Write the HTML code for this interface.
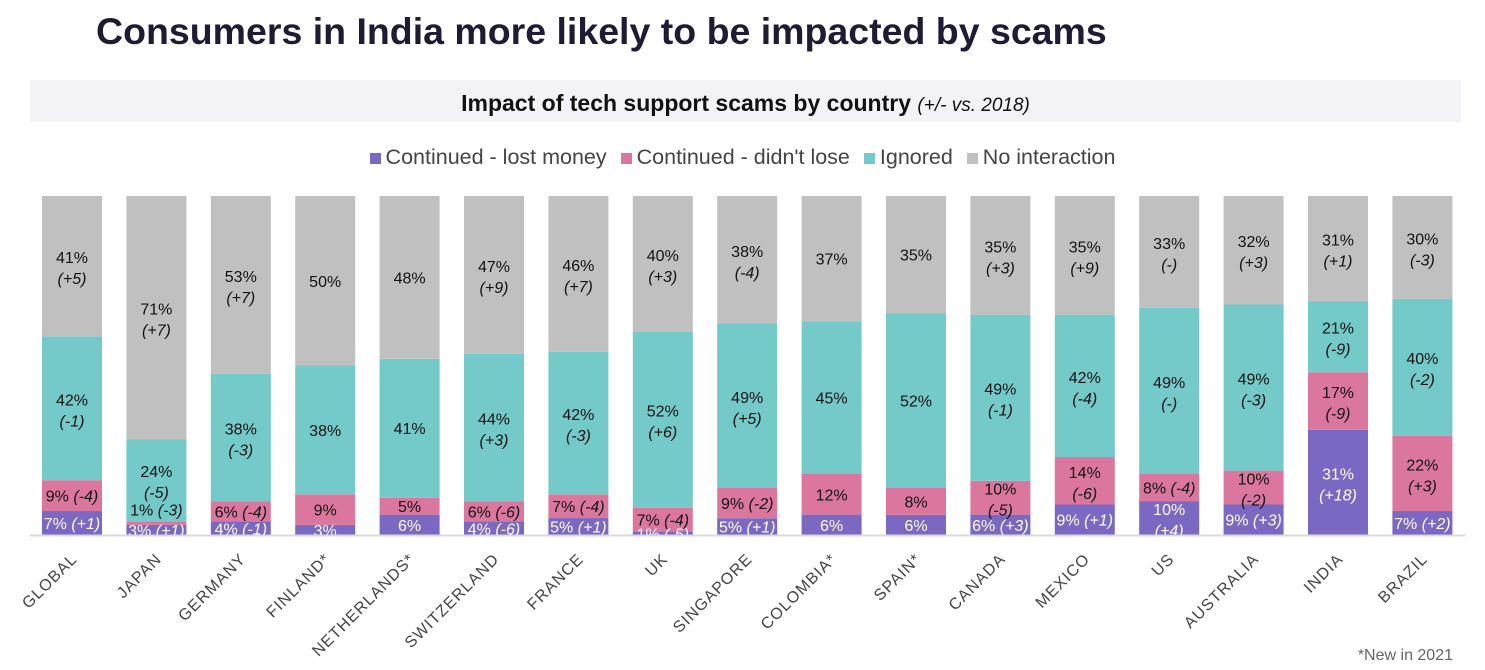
<!DOCTYPE html>
<html><head><meta charset="utf-8"><style>
body{margin:0;width:1485px;height:670px;background:#fff;font-family:"Liberation Sans",sans-serif;overflow:hidden;position:relative}
#title{position:absolute;left:96px;top:10px;font-size:37.5px;font-weight:bold;color:#1f1b33;margin:0}
#band{position:absolute;left:30px;top:80px;width:1431px;height:42px;background:#f3f2f7;text-align:center;line-height:46px;font-size:23px;font-weight:bold;color:#111}
#band i{font-weight:normal;font-size:19px}
#legend{position:absolute;top:145px;left:0;width:1485px;text-align:center;font-size:21.5px;color:#444}
.li{display:inline-block;margin:0 4px}
.sw{display:inline-block;width:11px;height:11px;margin-right:5px}
#foot{position:absolute;right:32px;top:647px;font-size:16px;color:#666}
</style></head><body>
<h1 id="title">Consumers in India more likely to be impacted by scams</h1>
<div id="band">Impact of tech support scams by country <i>(+/- vs. 2018)</i></div>
<div id="legend">
<span class="li"><span class="sw" style="background:#7b68c2"></span>Continued - lost money</span>
<span class="li"><span class="sw" style="background:#db779e"></span>Continued - didn't lose</span>
<span class="li"><span class="sw" style="background:#73cac8"></span>Ignored</span>
<span class="li"><span class="sw" style="background:#c0c0c0"></span>No interaction</span>
</div>
<svg id="chart" width="1485" height="670" style="position:absolute;left:0;top:0"></svg>
<div id="foot">*New in 2021</div>
<script>
const categories=["GLOBAL","JAPAN","GERMANY","FINLAND*","NETHERLANDS*","SWITZERLAND","FRANCE","UK","SINGAPORE","COLOMBIA*","SPAIN*","CANADA","MEXICO","US","AUSTRALIA","INDIA","BRAZIL"];
const lostMoney=[7,3,4,3,6,4,5,1,5,6,6,6,9,10,9,31,7];
const lostMoneyDelta=["+1","+1","-1","","","-6","+1","-5","+1","","","+3","+1","+4","+3","+18","+2"];
const didntLose=[9,1,6,9,5,6,7,7,9,12,8,10,14,8,10,17,22];
const didntLoseDelta=["-4","-3","-4","","","-6","-4","-4","-2","","","-5","-6","-4","-2","-9","+3"];
const ignored=[42,24,38,38,41,44,42,52,49,45,52,49,42,49,49,21,40];
const ignoredDelta=["-1","-5","-3","","","+3","-3","+6","+5","","","-1","-4","-","-3","-9","-2"];
const noInteraction=[41,71,53,50,48,47,46,40,38,37,35,35,35,33,32,31,30];
const noInteractionDelta=["+5","+7","+7","","","+9","+7","+3","-4","","","+3","+9","-","+3","+1","-3"];
const series=[[lostMoney,lostMoneyDelta,"#7b68c2","#fff","lost-money"],[didntLose,didntLoseDelta,"#db779e","#111","didnt-lose"],[ignored,ignoredDelta,"#73cac8","#111","ignored"],[noInteraction,noInteractionDelta,"#c0c0c0","#111","no-interaction"]];
const svg=document.getElementById('chart');const NS="http://www.w3.org/2000/svg";
const x0=42,step=84.4,bw=60,yTop=196,yBot=535;
const xPos=i=>x0+i*step;
const yPos=p=>yBot-(yBot-yTop)*p/100;
function mk(t,a){const e=document.createElementNS(NS,t);for(const k in a)e.setAttribute(k,a[k]);svg.appendChild(e);return e;}
const labels=[];
categories.forEach((c,i)=>{
  const tot=series.reduce((s,r)=>s+r[0][i],0);let cum=0;
  series.forEach(r=>{
    const v=r[0][i],d=r[1][i];
    const y1=yPos((cum+v)/tot*100),y0=yPos(cum/tot*100);cum+=v;
    const rect=mk('rect',{x:xPos(i),y:y1,width:bw,height:y0-y1,fill:r[2]});
    
    
    let cy=(y0+y1)/2;
    if(y0-y1<6 && r[3]!=='#fff') cy=y1-12;
    labels.push([xPos(i)+bw/2,cy,v,d,r[3]]);
  });
  const cx=xPos(i)+bw/2+6,cy=560;
  const lb=mk('text',{x:cx,y:cy,'text-anchor':'end','font-size':16,fill:'#444','letter-spacing':'1',transform:`rotate(-45 ${cx} ${cy})`});
  lb.textContent=c;
  
  
});
labels.forEach(([cx,cy,v,d,col])=>{
  const t=mk('text',{x:cx,'text-anchor':'middle','font-size':16,fill:col});
  
  
  if(d&&v>=10){
    t.setAttribute('y',cy-3);
    const a=document.createElementNS(NS,'tspan');a.textContent=v+'%';t.appendChild(a);
    const b=document.createElementNS(NS,'tspan');b.setAttribute('x',cx);b.setAttribute('dy',21);b.setAttribute('font-style','italic');b.textContent='('+d+')';t.appendChild(b);
  }else{
    t.setAttribute('y',cy+6);
    const a=document.createElementNS(NS,'tspan');a.textContent=v+'%'+(d?' ':'');t.appendChild(a);
    if(d){const b=document.createElementNS(NS,'tspan');b.setAttribute('font-style','italic');b.textContent='('+d+')';t.appendChild(b);}
  }
});
const axis=mk('line',{x1:30,x2:1465,y1:yBot+0.5,y2:yBot+0.5,stroke:'#d9d9d9','stroke-width':2});


</script>
</body></html>
